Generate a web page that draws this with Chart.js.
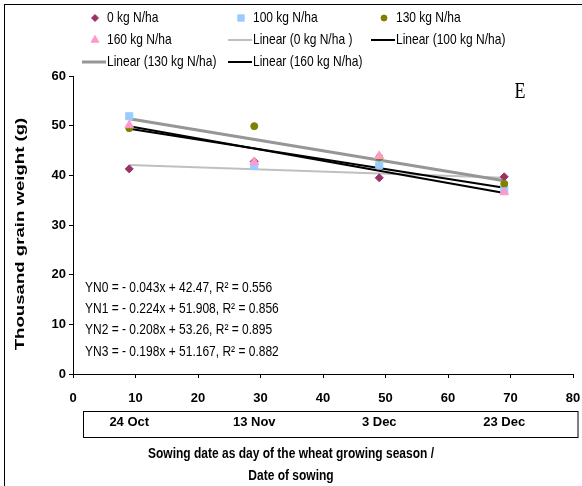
<!DOCTYPE html>
<html lang="en">
<head>
  <meta charset="UTF-8">
  <title>Thousand grain weight by sowing date</title>
  <script src="https://cdn.jsdelivr.net/npm/chart.js"></script>
  <style>
    body { margin: 0; background: #fff; }
  </style>
</head>
<body>
  <canvas id="grainChart" width="582" height="486"></canvas>

  <script>
    // values
    const sowingDays = [9, 29, 49, 69];
    const sowingDates = ['24 Oct', '13 Nov', '3 Dec', '23 Dec'];
    const rateNames = ['0 kg N/ha', '100 kg N/ha', '130 kg N/ha', '160 kg N/ha'];
    const weightN0 = [41.3, 42.8, 39.5, 39.7];
    const weightN100 = [51.9, 41.9, 42.1, 37.2];
    const weightN130 = [49.5, 49.9, 43.6, 38.3];
    const weightN160 = [50.1, 42.7, 43.9, 36.6];

    // trend lines, as printed on the chart
    const trendNames = ['Linear (0 kg N/ha )', 'Linear (100 kg N/ha)', 'Linear (130 kg N/ha)', 'Linear (160 kg N/ha)'];
    const trendSlopes = [-0.043, -0.224, -0.208, -0.198];
    const trendIntercepts = [42.47, 51.908, 53.26, 51.167];
    const equationTexts = [
      'YN0 = - 0.043x + 42.47, R\u00B2 = 0.556',
      'YN1 = - 0.224x + 51.908, R\u00B2 = 0.856',
      'YN2 = - 0.208x + 53.26, R\u00B2 = 0.895',
      'YN3 = - 0.198x + 51.167, R\u00B2 = 0.882'
    ];

    const xTickStep = 10;
    const yTickStep = 10;
    const xTitle = ['Sowing date as day of the wheat growing season /', 'Date of sowing'];
    const yTitle = 'Thousand grain weight (g)';
    const panelLetter = 'E';

    // styles
    const markerStyles = ['rectRot', 'rect', 'circle', 'triangle'];
    const markerColors = ['#993366', '#99CCFF', '#808000', '#FF99CC'];
    const markerRadius = [4, 5, 3.5, 5];
    const trendColors = ['#C0C0C0', '#000000', '#969696', '#000000'];
    const trendWidths = [2, 2, 3, 2];

    const FONT = "'Liberation Sans', Arial, sans-serif";
    const STRETCH = 1.25; // text in the original is taller than its width suggests

    Chart.defaults.font.family = FONT;
    Chart.defaults.color = '#000';

    const seriesValues = [weightN0, weightN100, weightN130, weightN160];
    const datasets = [];

    // scatter markers
    seriesValues.forEach((vals, i) => {
      datasets.push({
        label: rateNames[i],
        data: sowingDays.map((d, j) => ({ x: d, y: vals[j] })),
        pointStyle: markerStyles[i],
        pointRadius: markerRadius[i],
        pointBackgroundColor: markerColors[i],
        pointBorderColor: markerColors[i],
        pointBorderWidth: 1,
        showLine: false,
        order: 4 - i
      });
    });

    // linear trend lines between first and last sowing day
    trendSlopes.forEach((m, i) => {
      const ends = [sowingDays[0], sowingDays[sowingDays.length - 1]];
      datasets.push({
        label: trendNames[i],
        data: ends.map(d => ({ x: d, y: m * d + trendIntercepts[i] })),
        showLine: true,
        borderColor: trendColors[i],
        borderWidth: trendWidths[i],
        pointRadius: 0,
        fill: false,
        order: 13 - i
      });
    });

    function stretchText(ctx, text, x, y, sy) {
      ctx.save();
      ctx.translate(x, y);
      ctx.scale(1, sy);
      ctx.fillText(text, 0, 0);
      ctx.restore();
    }

    const legendCols = [82, 228, 371];
    const legendRows = [18, 40, 62];

    const decorations = {
      id: 'decorations',
      beforeDraw(chart) {
        const ctx = chart.ctx;
        ctx.save();
        ctx.fillStyle = '#fff';
        ctx.fillRect(0, 0, chart.width, chart.height);
        ctx.strokeStyle = '#000';
        ctx.lineWidth = 1;
        ctx.strokeRect(4.5, 4.5, chart.width + 20, chart.height + 20);
        ctx.restore();
      },
      afterDraw(chart) {
        const ctx = chart.ctx;
        const area = chart.chartArea;
        const x2 = chart.scales.x2;
        ctx.save();

        // box round the sowing dates
        ctx.strokeStyle = '#000';
        ctx.lineWidth = 1;
        const bx = Math.round(area.left + 10) + 0.5;
        const by = Math.round(x2.top) + 0.5;
        ctx.strokeRect(bx, by, Math.round(area.right + 5) - bx, 26);

        ctx.fillStyle = '#000';
        ctx.textBaseline = 'middle';

        // legend
        ctx.font = '12px ' + FONT;
        ctx.textAlign = 'left';
        chart.data.datasets.forEach((ds, i) => {
          const cx = legendCols[i % 3];
          const cy = legendRows[Math.floor(i / 3)];
          if (ds.showLine) {
            ctx.strokeStyle = ds.borderColor;
            ctx.lineWidth = ds.borderWidth;
            ctx.beginPath();
            ctx.moveTo(cx, cy);
            ctx.lineTo(cx + 24, cy);
            ctx.stroke();
          } else {
            ctx.fillStyle = ds.pointBackgroundColor;
            ctx.strokeStyle = ds.pointBorderColor;
            ctx.lineWidth = 1;
            Chart.helpers.drawPoint(ctx, {
              pointStyle: ds.pointStyle,
              radius: ds.pointRadius - 0.5,
              rotation: 0,
              borderWidth: 1
            }, cx + 13, cy);
          }
          ctx.fillStyle = '#000';
          stretchText(ctx, ds.label, cx + 25, cy, STRETCH);
        });

        // regression equations
        ctx.font = '12px ' + FONT;
        const eqRows = [288, 309, 330, 352];
        equationTexts.forEach((t, i) => stretchText(ctx, t, area.left + 12, eqRows[i], STRETCH));

        // panel letter
        ctx.font = "18px 'Liberation Serif', 'Times New Roman', serif";
        ctx.textAlign = 'center';
        stretchText(ctx, panelLetter, 520, 92, STRETCH);

        // axis titles
        ctx.font = 'bold 12px ' + FONT;
        ctx.textAlign = 'center';
        stretchText(ctx, xTitle[0], chart.width / 2, 454, STRETCH);
        stretchText(ctx, xTitle[1], chart.width / 2, 476, STRETCH);

        ctx.save();
        ctx.translate(21, 234);
        ctx.rotate(-Math.PI / 2);
        ctx.scale(1.55, 1);
        ctx.font = 'bold 12px ' + FONT;
        ctx.fillText(yTitle, 0, 0);
        ctx.restore();

        ctx.restore();
      }
    };

    const ctxGrain = document.getElementById('grainChart').getContext('2d');

    const grainChart = new Chart(ctxGrain, {
      type: 'scatter',
      data: { datasets: datasets },
      plugins: [decorations],
      options: {
        responsive: false,
        animation: false,
        devicePixelRatio: 1,
        layout: { padding: { top: 76, right: 9, bottom: 0, left: 0 } },
        plugins: {
          legend: { display: false },
          tooltip: { enabled: false }
        },
        scales: {
          x: {
            type: 'linear',
            position: 'bottom',
            weight: 0,
            min: 0,
            max: 80,
            ticks: { stepSize: xTickStep, padding: 13, font: { size: 13, weight: 'bold' }, maxRotation: 0 },
            grid: { drawOnChartArea: false, drawTicks: true, tickLength: 4, color: '#000' },
            border: { color: '#000', width: 1 },
            afterFit: s => { s.height = 37; s.paddingLeft = 0; s.paddingRight = 0; }
          },
          x2: {
            type: 'linear',
            position: 'bottom',
            weight: 1,
            min: 0,
            max: 80,
            afterBuildTicks: s => { s.ticks = sowingDays.map(v => ({ value: v })); },
            ticks: {
              autoSkip: false,
              maxRotation: 0,
              padding: 4,
              font: { size: 13, weight: 'bold' },
              callback: (v, i) => sowingDates[i]
            },
            grid: { display: false, drawTicks: false },
            border: { display: false },
            afterFit: s => { s.height = 75; s.paddingLeft = 0; s.paddingRight = 0; }
          },
          y: {
            min: 0,
            max: 60,
            ticks: { stepSize: yTickStep, padding: 3, font: { size: 13, weight: 'bold' } },
            grid: { drawOnChartArea: false, drawTicks: true, tickLength: 4, color: '#000' },
            border: { color: '#000', width: 1 },
            afterFit: s => { s.width = 73; }
          }
        }
      }
    });
  </script>
</body>
</html>
